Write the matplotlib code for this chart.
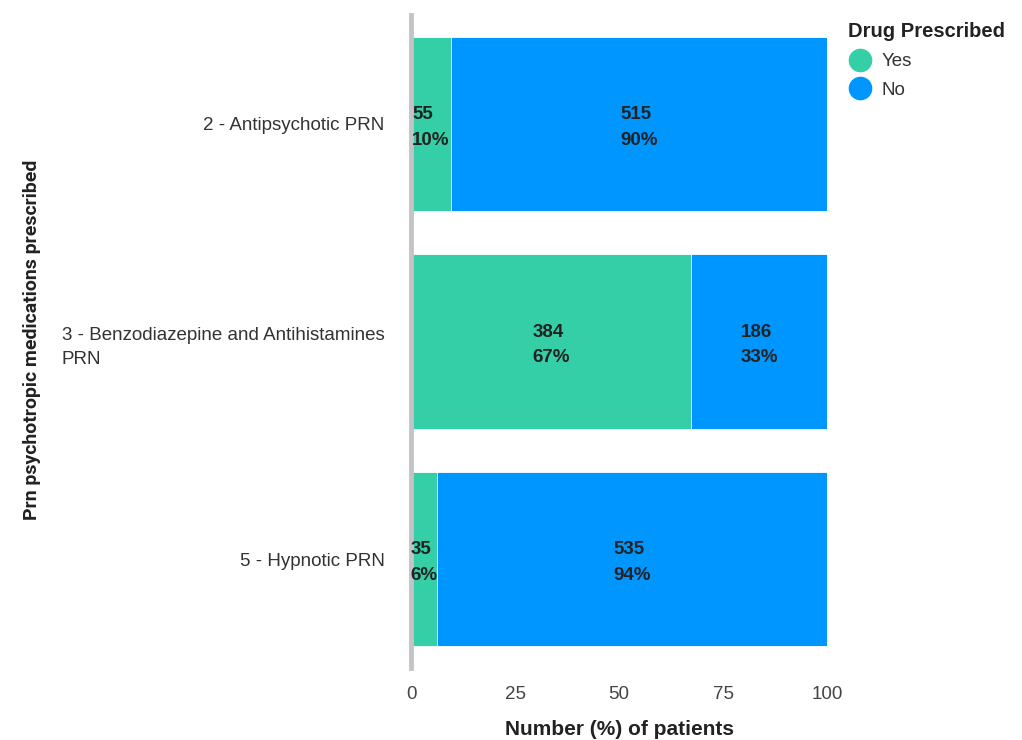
import matplotlib
matplotlib.use("Agg")
import matplotlib.pyplot as plt
from matplotlib.lines import Line2D
import numpy as np

categories = ["2 - Antipsychotic PRN",
              "3 - Benzodiazepine and Antihistamines\nPRN",
              "5 - Hypnotic PRN"]
yes_counts = [55, 384, 35]
no_counts = [515, 186, 535]
yes_pct = [10, 67, 6]
no_pct = [90, 33, 94]
series_names = ["Yes", "No"]
colors = ["#34CFA6", "#0096FF"]
xticks = [0, 25, 50, 75, 100]

plt.rcParams['font.family'] = ['Liberation Sans', 'DejaVu Sans']

fig = plt.figure(figsize=(10.22, 7.40), dpi=100)
ax = fig.add_axes([411/1022, 1-668/740, (827-411)/1022, (668-15)/740])

yes = np.array(yes_counts, float)
no = np.array(no_counts, float)
tot = yes + no
yes_share = yes / tot * 100
no_share = no / tot * 100
y = np.arange(len(categories))

ax.barh(y, yes_share, height=0.8, color=colors[0], edgecolor="white", linewidth=0.6)
ax.barh(y, no_share, left=yes_share, height=0.8, color=colors[1], edgecolor="white", linewidth=0.6)

for i in range(len(categories)):
    ax.annotate(f"{yes_counts[i]}\n{yes_pct[i]}%", (yes_share[i] / 2, y[i]),
                xytext=(0, -2.5), textcoords="offset points",
                ha="center", va="center", multialignment="left",
                fontsize=13.5, fontweight="bold", color="#222222", linespacing=1.65)
    ax.annotate(f"{no_counts[i]}\n{no_pct[i]}%", (yes_share[i] + no_share[i] / 2, y[i]),
                xytext=(0, -2.5), textcoords="offset points",
                ha="center", va="center", multialignment="left",
                fontsize=13.5, fontweight="bold", color="#222222", linespacing=1.65)

ax.set_xlim(0, 100)
ax.set_ylim(2.5, -0.5)
ax.set_yticks(y)
ax.set_yticklabels(categories, fontsize=13.5, color="#333333", multialignment="left",
                   linespacing=1.55)
ax.set_xticks(xticks)
ax.set_xticklabels([str(t) for t in xticks], fontsize=13.5, color="#444444")
ax.tick_params(axis="both", length=0)
ax.tick_params(axis="y", pad=19)
ax.tick_params(axis="x", pad=13)

for s in ["top", "right", "bottom"]:
    ax.spines[s].set_visible(False)
ax.spines["left"].set_color("#C4C4C4")
ax.spines["left"].set_linewidth(3.5)

ax.set_xlabel("Number (%) of patients", fontsize=15, fontweight="bold", color="#222222", labelpad=12)
fig.text(32/1022, 1-340/740, "Prn psychotropic medications prescribed",
         rotation=90, ha="center", va="center", fontsize=14, fontweight="bold",
         color="#222222", family=["Liberation Sans Narrow", "Roboto", "DejaVu Sans"])

handles = [Line2D([0], [0], marker="o", linestyle="", markersize=16,
                  markerfacecolor=c, markeredgecolor=c) for c in colors]
leg = fig.legend(handles, series_names, title="Drug Prescribed",
                 loc="upper left", bbox_to_anchor=(831/1022, 1-5/740),
                 frameon=False, fontsize=13.5, title_fontproperties={"weight": "bold", "size": 14.5},
                 handletextpad=0.5, labelspacing=0.6, handlelength=1.3)
leg._legend_box.align = "left"
leg._legend_box.sep = 9
for t in leg.get_texts():
    t.set_color("#333333")
leg.get_title().set_color("#222222")

fig.savefig("out.png", dpi=100)
